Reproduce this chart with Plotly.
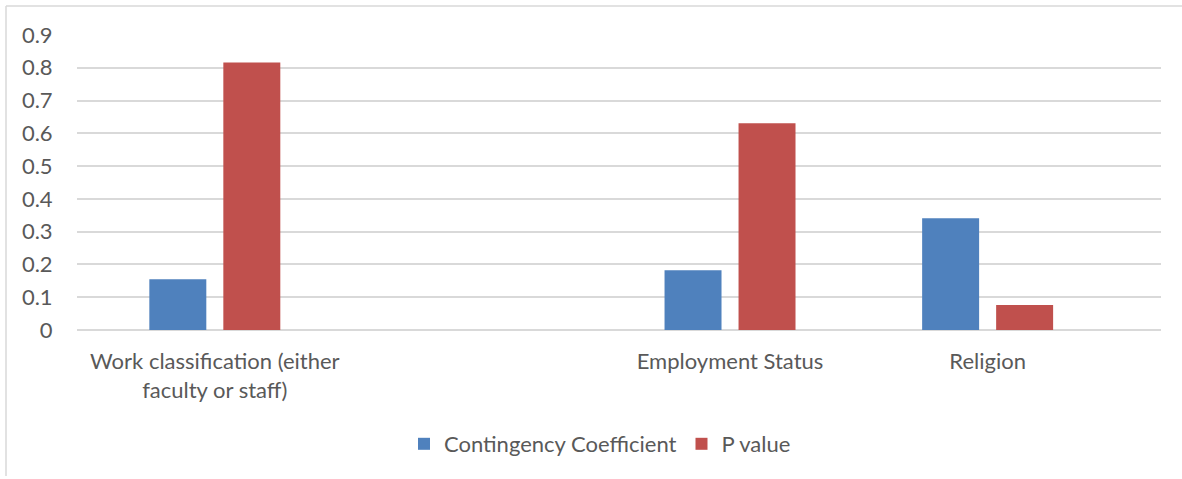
import plotly.graph_objects as go

categories = ["Work classification (either<br>faculty or staff)", " ", "Employment Status", "Religion"]
contingency = [0.155, None, 0.182, 0.341]
p_value = [0.816, None, 0.631, 0.076]
y_ticks = [0, 0.1, 0.2, 0.3, 0.4, 0.5, 0.6, 0.7, 0.8, 0.9]

FONT = "Lato"
FS = 22
GRAY = "#595959"
GRID = "#D9D9D9"

fig = go.Figure()
fig.add_trace(go.Bar(name="Contingency Coefficient", x=categories, y=contingency,
                     marker=dict(color="#4F81BD", line=dict(width=0))))
fig.add_trace(go.Bar(name="P value", x=categories, y=p_value,
                     marker=dict(color="#C0504D", line=dict(width=0))))

W, H = 1182, 479
L, R, T, B = 77, W - 1161, 35, H - 330
pw, ph = W - L - R, H - T - B

fig.update_layout(
    width=W, height=H,
    margin=dict(l=L, r=R, t=T, b=B, pad=0),
    paper_bgcolor="white", plot_bgcolor="white",
    barmode="group", bargap=0.4255, bargroupgap=0.23,
    font=dict(family=FONT, size=FS, color=GRAY),
    showlegend=True,
    legend=dict(orientation="h", x=(600 - L) / pw, xanchor="center",
                y=(330 - 444) / ph, yanchor="middle",
                font=dict(family=FONT, size=FS, color=GRAY),
                itemwidth=30, bgcolor="rgba(0,0,0,0)"),
    xaxis=dict(type="category", categoryorder="array", categoryarray=categories,
               range=[-0.535, 3.673], showgrid=False, zeroline=False,
               showline=False, ticks="outside", ticklen=12, tickcolor="rgba(0,0,0,0)",
               tickfont=dict(family=FONT, size=FS, color=GRAY), fixedrange=True),
    yaxis=dict(range=[0, 0.9], tickvals=y_ticks, ticktext=[f"{v:g}" for v in y_ticks],
               showgrid=True, gridcolor=GRID, gridwidth=2, zeroline=True,
               zerolinecolor=GRID, zerolinewidth=2, showline=False,
               ticks="outside", ticklen=19, tickcolor="rgba(0,0,0,0)",
               tickfont=dict(family=FONT, size=FS, color=GRAY), fixedrange=True),
    shapes=[
        dict(type="line", xref="paper", yref="paper",
             x0=(6 - L) / pw, x1=(6 - L) / pw, y0=(330 - 476) / ph, y1=(330 - 6) / ph,
             line=dict(color=GRID, width=1.5)),
        dict(type="line", xref="paper", yref="paper",
             x0=(6 - L) / pw, x1=(1190 - L) / pw, y0=(330 - 6) / ph, y1=(330 - 6) / ph,
             line=dict(color=GRID, width=1.5)),
    ],
)

fig.write_html("out.html")
